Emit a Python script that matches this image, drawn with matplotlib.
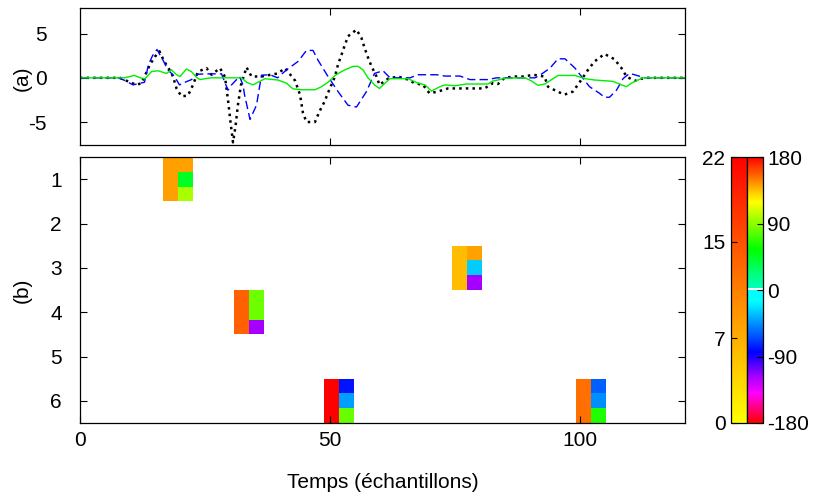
import numpy as np
import matplotlib
matplotlib.use("Agg")
import matplotlib.pyplot as plt
from matplotlib.colors import LinearSegmentedColormap, ListedColormap, Normalize
from matplotlib.cm import ScalarMappable

plt.rcParams['font.family'] = ['Liberation Sans', 'DejaVu Sans']
plt.rcParams['axes.unicode_minus'] = False

# ---------------- data: panel (a) ----------------
t_black = [0, 8, 9.6, 11.3, 12.3, 14, 15, 15.9, 16.8, 17.9, 18.6, 19.3, 20.3, 21.6, 22.6, 23.6, 25.3, 26.3, 28, 29,
           29.6, 30.1, 30.6, 31.1, 31.6, 32.2, 33.3, 34.3, 36.3, 39.6, 41, 43, 44, 44.6, 45.3, 47, 47.9, 48.9, 49.6, 51,
           51.6, 52.3, 52.9, 53.6, 55.3, 56.3, 56.9, 57.6, 58.3, 59.3, 59.9, 61.6, 63.6, 65.6, 66.9, 68.6, 69.9, 71.6, 73.6, 75.6,
           77.3, 79.3, 80.9, 82.6, 83.6, 84.9, 86.9, 88.9, 90.6, 92.9, 93.6, 95.3, 96.9, 98.6, 100.3, 101.6, 102.9, 104.9, 106.9, 108.3,
           109.3, 110.9, 112.3, 113.5, 121]
v_black = [0, 0, -0.4, -0.8, -0.6, 1.5, 2.4, 3.0, 1.9, 0.9, 0.15, -1.2, -2.1, -2.0, -0.8, 0.7, 1.1, 0.35, 1.1, 0.1,
           -2.5, -5.0, -7.3, -5.5, -3.0, -0.8, 1.2, 0.15, 0.15, 0.5, 1.1, -0.3, -1.9, -4.0, -5.0, -5.0, -3.8, -2.7, -1.7, 0.15,
           1.5, 2.6, 3.6, 4.7, 5.45, 4.5, 3.4, 2.3, 1.3, 0.15, -0.8, -0.1, 0.15, -0.2, -0.6, -0.8, -1.75, -1.55, -1.2, -1.2,
           -1.2, -1.2, -1.2, -0.6, -0.7, 0, 0.15, 0.15, 0.35, 0.15, -1.0, -1.5, -1.9, -1.55, -0.2, 0.9, 1.85, 2.7, 2.1, 1.1,
           0.15, -0.35, -0.1, 0, 0]

t_blue = [0, 7.6, 9, 10.6, 12.9, 13.7, 14.5, 15.4, 16.6, 17.6, 18.9, 19.9, 21, 22.3, 23.6, 25, 28.3, 29.6, 30.3, 31.9,
          32.6, 32.9, 34.0, 35.3, 36.3, 38, 39.5, 41.3, 43.6, 45.3, 46.6, 47.6, 49.6, 51.6, 53.6, 55.3, 57.3, 58.9, 60.6, 62,
          66, 67.6, 71.3, 73, 76, 78, 81.6, 83.3, 91, 92, 94, 95.6, 97, 99, 100.3, 101.9, 103.9, 104.9, 105.9, 107.3,
          108.6, 109.9, 110.9, 113, 121]
v_blue = [0, 0, -0.3, -0.8, -0.5, 1.5, 2.5, 3.2, 2.0, 0.9, 0.15, -0.8, -0.5, -0.2, 0.4, 0.45, 0.45, -1.4, -0.8, 0.15,
          -0.8, -1.9, -4.7, -3.1, 0.3, 0.35, 0.0, 0.9, 1.85, 3.1, 3.1, 2.0, 0.15, -1.55, -3.1, -3.3, -1.55, 0.5, 0.8, 0,
          0, 0.35, 0.35, 0.2, 0.2, -0.2, -0.2, 0, 0, 0.3, 1.1, 2.15, 2.15, 1.1, 0.15, -1.0, -1.75, -2.2, -2.2, -1.4,
          -0.1, 0.5, 0.35, 0, 0]

t_green = [0, 8.9, 10.9, 12.3, 13, 14.3, 15.6, 17.3, 18.3, 19.3, 20, 21.3, 22.3, 23.3, 24, 25, 26.3, 32.3, 33.3, 34.6,
           35.6, 37, 39.6, 41.3, 42.6, 44.3, 47, 48.3, 49.6, 51, 52.6, 54.6, 55.6, 56.6, 57.6, 58.9, 59.9, 61, 62, 65.6,
           67.6, 69, 70.3, 72, 73, 75, 77.3, 81.6, 82.6, 83.6, 85, 89, 90.3, 91.6, 93, 95.6, 99, 101, 103, 106.6,
           108.3, 109.3, 110.3, 111.6, 112.6, 121]
v_green = [0, 0, 0.27, -0.05, -0.1, 0.7, 0.8, 0.5, 0.9, 0.35, 0.15, 1.0, 0.7, 0.05, -0.2, -0.1, 0, 0, -0.5, -0.8,
           -0.5, -0.1, -0.25, -0.6, -1.25, -1.35, -1.35, -1.0, -0.5, 0.27, 0.8, 1.3, 1.3, 0.9, 0, -0.8, -1.2, -0.6, -0.1, -0.1,
           -0.6, -0.8, -1.5, -1.0, -0.8, -0.9, -0.7, -0.7, -0.35, -0.25, -0.05, 0, -0.35, -0.85, -0.7, 0.27, 0.27, -0.1, -0.25, -0.4,
           -0.8, -1.0, -0.6, -0.25, 0, 0]

# ---------------- data: panel (b) ----------------
blk_time = [19.6, 33.8, 77.4, 51.8, 102.2]
blk_row = [1, 4, 3, 6, 6]
blk_amp = [8.2, 13.7, 5.8, 22.0, 12.3]
blk_phase = [[142, 45, 98], [82, 82, -118], [142, -29, -118], [-80, -41, 81], [-58, -46, 63]]

amp_ticks = [0, 7, 15, 22]
phase_ticks = [-180, -90, 0, 90, 180]
x_ticks = [0, 50, 100]
row_ticks = [1, 2, 3, 4, 5, 6]

# ---------------- colormaps ----------------
amp_cmap = plt.get_cmap('autumn_r')
amp_norm = Normalize(0, 22)

anchors = [(-180, (1, 0, 0)), (-140, (1, 0, 1)), (-115, (0.6, 0, 1)), (-85, (0, 0, 1)),
           (-50, (0, 0.5, 1)), (-15, (0, 1, 1)), (0, (0, 1, 1)), (3, (0, 1, 0.75)),
           (55, (0, 1, 0)), (120, (1, 1, 0)), (150, (1, 0.5, 0)), (180, (1, 0, 0))]
base = LinearSegmentedColormap.from_list('ph', [((p + 180) / 360, c) for p, c in anchors], N=256)
cols = base(np.linspace(0, 1, 256))
zi = int(round(0.5 * 255))
cols[zi:zi + 2] = [1, 1, 1, 1]
ph_cmap = ListedColormap(cols)
ph_norm = Normalize(-180, 180)

fs = 15
fig = plt.figure(figsize=(8.14, 4.97), dpi=100)
W, H = 814, 497
def rect(x0, y0, x1, y1):
    return [x0 / W, 1 - y1 / H, (x1 - x0) / W, (y1 - y0) / H]

axa = fig.add_axes(rect(80, 8, 685, 145))
axb = fig.add_axes(rect(80, 157, 685, 423))

axa.plot(t_black, v_black, color='black', linestyle=':', linewidth=1.8)
axa.plot(t_blue, v_blue, color='blue', linestyle=(0, (6, 3)), linewidth=1.0)
axa.plot(t_green, v_green, color='#00ee00', linestyle='-', linewidth=1.0)
axa.set_xlim(0, 121)
axa.set_ylim(-7.6, 7.9)
axa.set_yticks([-5, 0, 5])
axa.set_xticks([50, 100])
axa.set_xticklabels([])

for t, r, a, ph in zip(blk_time, blk_row, blk_amp, blk_phase):
    axb.bar(t - 3, 1, width=3, bottom=r - 0.5, align='edge', color=amp_cmap(amp_norm(a)), linewidth=0)
    for k, p in enumerate(ph):
        axb.bar(t, 1 / 3, width=3, bottom=r - 0.5 + k / 3, align='edge',
                color=ph_cmap(ph_norm(p)), linewidth=0)
axb.set_xlim(0, 121)
axb.set_ylim(6.5, 0.5)
axb.set_yticks(row_ticks)
axb.set_xticks(x_ticks)
axb.set_xlabel('Temps (échantillons)', fontsize=fs, labelpad=16)

for ax in (axa, axb):
    ax.tick_params(direction='in', length=5, width=0.8, top=True, right=True, labelsize=fs,
                   pad=6)
    for s in ax.spines.values():
        s.set_linewidth(0.9)
axa.tick_params(axis='y', pad=24)
axb.tick_params(axis='y', pad=13)

fig.text(22 / W, 1 - 78 / H, '(a)', rotation=90, fontsize=fs, ha='center', va='center')
fig.text(22 / W, 1 - 290 / H, '(b)', rotation=90, fontsize=fs, ha='center', va='center')

cax1 = fig.add_axes(rect(731, 157, 747, 423))
cax2 = fig.add_axes(rect(747, 157, 763, 423))
cb1 = fig.colorbar(ScalarMappable(norm=amp_norm, cmap=amp_cmap), cax=cax1)
cb1.set_ticks(amp_ticks)
cax1.yaxis.set_ticks_position('left')
cax1.yaxis.set_label_position('left')
cax1.tick_params(direction='in', length=4, labelsize=fs, pad=4)
cb2 = fig.colorbar(ScalarMappable(norm=ph_norm, cmap=ph_cmap), cax=cax2)
cb2.set_ticks(phase_ticks)
cax2.tick_params(direction='in', length=4, labelsize=fs, pad=3)
for c in (cb1, cb2):
    c.outline.set_linewidth(0.9)

fig.savefig('out.png', dpi=100)
